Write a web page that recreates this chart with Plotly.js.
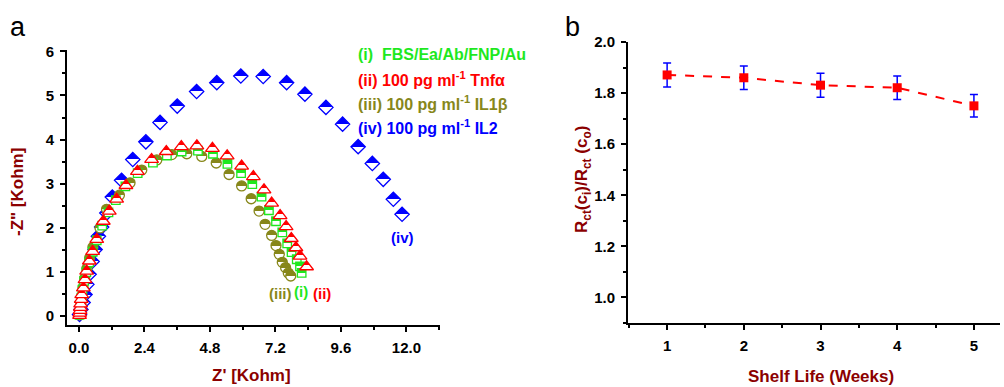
<!DOCTYPE html>
<html>
<head>
<meta charset="utf-8">
<script src="https://cdn.plot.ly/plotly-3.0.1.min.js"></script>
<style>html,body{margin:0;padding:0;background:#fff;}#chart{width:1004px;height:387px;}</style>
</head>
<body>
<div id="chart"></div>
<script>
// Panel a: Nyquist data (Kohm)
const zreI   = [0.02,0.04,0.06,0.09,0.13,0.19,0.27,0.37,0.50,0.65,0.85,1.08,1.35,1.70,2.15,2.71,3.22,3.76,4.36,4.91,5.44,5.94,6.35,6.69,6.96,7.22,7.45,7.63,7.79,7.98,8.10,8.16];
const zimI   = [0.03,0.12,0.25,0.42,0.60,0.80,1.00,1.22,1.46,1.72,2.05,2.35,2.63,2.94,3.24,3.48,3.64,3.73,3.75,3.68,3.45,3.24,2.99,2.71,2.40,2.15,1.90,1.65,1.45,1.29,1.13,0.98];
const zreII  = [0.02,0.03,0.04,0.05,0.06,0.08,0.10,0.16,0.22,0.28,0.38,0.50,0.65,0.89,1.11,1.38,1.72,2.14,2.66,3.20,3.75,4.32,4.89,5.43,5.96,6.39,6.78,7.06,7.37,7.59,7.78,7.95,8.10,8.34];
const zimII  = [0.02,0.07,0.13,0.20,0.28,0.38,0.49,0.64,0.83,1.02,1.25,1.47,1.74,2.15,2.38,2.65,2.96,3.28,3.55,3.73,3.84,3.86,3.80,3.63,3.40,3.16,2.86,2.56,2.28,2.03,1.76,1.55,1.36,1.12];
const zreIII = [0.02,0.04,0.07,0.10,0.15,0.21,0.29,0.39,0.51,0.77,1.01,1.48,1.87,2.30,2.85,3.40,3.95,4.50,5.03,5.50,5.96,6.31,6.60,6.82,7.06,7.22,7.34,7.45,7.57,7.67,7.76];
const zimIII = [0.03,0.14,0.28,0.45,0.65,0.86,1.08,1.32,1.56,2.00,2.42,2.74,3.02,3.31,3.54,3.66,3.68,3.62,3.47,3.21,2.95,2.66,2.38,2.08,1.83,1.60,1.40,1.22,1.10,0.98,0.91];
const zreIV  = [0.02,0.07,0.15,0.22,0.29,0.37,0.48,0.59,0.71,0.83,1.02,1.22,1.56,1.97,2.45,2.97,3.60,4.31,5.05,5.93,6.75,7.61,8.28,9.05,9.66,10.23,10.75,11.15,11.52,11.84];
const zimIV  = [0.04,0.15,0.31,0.49,0.72,0.95,1.24,1.51,1.81,2.02,2.34,2.70,3.08,3.55,3.95,4.39,4.76,5.09,5.29,5.44,5.43,5.29,5.03,4.73,4.35,3.84,3.46,3.10,2.65,2.31];

// Panel b: shelf life
const weeks = [1,2,3,4,5];
const ratio = [1.871,1.860,1.831,1.821,1.750];
const ratioErr = [0.047,0.046,0.047,0.046,0.044];

// Tick labels
const xTicksA = [0, 2.4, 4.8, 7.2, 9.6, 12.0];
const xTickTextA = ['0.0','2.4','4.8','7.2','9.6','12.0'];
const yTicksA = [0,1,2,3,4,5,6];
const yTickTextA = ['0','1','2','3','4','5','6'];
const xTicksB = [1,2,3,4,5];
const xTickTextB = ['1','2','3','4','5'];
const yTicksB = [1.0,1.2,1.4,1.6,1.8,2.0];
const yTickTextB = ['1.0','1.2','1.4','1.6','1.8','2.0'];

const legendLabels = ["(i)  FBS/Ea/Ab/FNP/Au","(ii) 100 pg ml<sup>-1</sup> Tnfα","(iii) 100 pg ml<sup>-1</sup> IL1β","(iv) 100 pg ml<sup>-1</sup> IL2"];
const curveLabels = ["(i)","(ii)","(iii)","(iv)"];

const GREEN = '#1ee81e', RED = '#ff0000', OLIVE = '#87871a', BLUE = '#0000ff', DARKRED = '#8b0000';
const FONT = 'Arial, "Liberation Sans", sans-serif';

function half(x, y, sym, size, col){
  return {x:x, y:y, type:'scatter', mode:'markers', xaxis:'x', yaxis:'y', showlegend:false, hoverinfo:'skip',
    marker:{symbol:sym, size:size, color:col, line:{color:col, width:1.3}, gradient:{type:'vertical', color:'#ffffff'}}};
}

const data = [
  half(zreIV, zimIV, 'diamond', 11, BLUE),
  half(zreIII, zimIII, 'circle', 10, OLIVE),
  half(zreI, zimI, 'square', 8.5, GREEN),
  half(zreII, zimII, 'triangle-up', 12, RED),
  {x:weeks, y:ratio, type:'scatter', mode:'lines+markers', xaxis:'x2', yaxis:'y2', showlegend:false,
   line:{color:RED, width:2, dash:'dash'}, marker:{symbol:'square', size:9, color:RED},
   error_y:{type:'data', array:ratioErr, visible:true, color:BLUE, thickness:1.5, width:4}}
];

const tickfont = {family:FONT, size:15, color:'#000'};
function bold(arr){ return arr.map(s => '<b>' + s + '</b>'); }
function ax(extra){
  return Object.assign({showline:true, linecolor:'#000', linewidth:2, ticks:'outside', ticklen:5, tickwidth:2, tickcolor:'#000',
    showgrid:false, zeroline:false, tickfont:tickfont, mirror:false, fixedrange:true, tickmode:'array', ticklabelstandoff:3}, extra);
}

const annotations = [];
const lcols = [GREEN, RED, OLIVE, BLUE];
const ly = [54, 79, 103, 127];
for (let i=0;i<4;i++){
  annotations.push({xref:'paper', yref:'paper', x:356/1004, y:1-ly[i]/387, xanchor:'left', yanchor:'middle', showarrow:false,
    text:'<b>' + legendLabels[i] + '</b>', font:{family:FONT, size:16, color:lcols[i]}});
}
const clx = [301, 322, 280, 402], cly = [291, 293, 293, 238];
for (let i=0;i<4;i++){
  annotations.push({xref:'paper', yref:'paper', x:clx[i]/1004, y:1-cly[i]/387, xanchor:'center', yanchor:'middle', showarrow:false,
    text:'<b>' + curveLabels[i] + '</b>', font:{family:FONT, size:15, color:lcols[i]}});
}
annotations.push({xref:'paper', yref:'paper', x:18/1004, y:1-27/387, xanchor:'center', yanchor:'middle', showarrow:false, text:'a', font:{family:FONT, size:27, color:'#000'}});
annotations.push({xref:'paper', yref:'paper', x:572/1004, y:1-27/387, xanchor:'center', yanchor:'middle', showarrow:false, text:'b', font:{family:FONT, size:27, color:'#000'}});
annotations.push({xref:'paper', yref:'paper', x:251/1004, y:1-375/387, xanchor:'center', yanchor:'middle', showarrow:false, text:"<b>Z' [Kohm]</b>", font:{family:FONT, size:17, color:DARKRED}});
annotations.push({xref:'paper', yref:'paper', x:17/1004, y:1-192/387, xanchor:'center', yanchor:'middle', showarrow:false, textangle:-90, text:'<b>-Z" [Kohm]</b>', font:{family:FONT, size:17, color:DARKRED}});
annotations.push({xref:'paper', yref:'paper', x:821/1004, y:1-376/387, xanchor:'center', yanchor:'middle', showarrow:false, text:'<b>Shelf Life (Weeks)</b>', font:{family:FONT, size:17, color:DARKRED}});
annotations.push({xref:'paper', yref:'paper', x:583/1004, y:1-180/387, xanchor:'center', yanchor:'middle', showarrow:false, textangle:-90, text:'<b>R<sub>ct</sub>(c<sub>i</sub>)/R<sub>ct</sub> (c<sub>o</sub>)</b>', font:{family:FONT, size:17, color:DARKRED}});

const layout = {
  width:1004, height:387, margin:{l:0,r:0,t:0,b:0}, paper_bgcolor:'#fff', plot_bgcolor:'#fff', showlegend:false,
  xaxis: ax({domain:[67/1004, 440/1004], range:[-0.44, 13.23], tickvals:xTicksA, ticktext:bold(xTickTextA), anchor:'y',
    minor:{ticks:'outside', ticklen:3, tickwidth:2, tickcolor:'#000', dtick:1.2, tick0:0, showgrid:false}}),
  yaxis: ax({domain:[1-325/387, 1-50/387], range:[-0.2, 6.03], tickvals:yTicksA, ticktext:bold(yTickTextA), anchor:'x',
    minor:{ticks:'outside', ticklen:3, tickwidth:2, tickcolor:'#000', dtick:0.5, tick0:0, showgrid:false}}),
  xaxis2: ax({domain:[628/1004, 1000/1004], range:[0.49, 5.34], tickvals:xTicksB, ticktext:bold(xTickTextB), anchor:'y2',
    minor:{ticks:'outside', ticklen:3, tickwidth:2, tickcolor:'#000', dtick:0.5, tick0:0.5, showgrid:false}}),
  yaxis2: ax({domain:[1-323/387, 1-42/387], range:[0.9, 2.0], tickvals:yTicksB, ticktext:bold(yTickTextB), anchor:'x2',
    minor:{ticks:'outside', ticklen:3, tickwidth:2, tickcolor:'#000', dtick:0.1, tick0:0, showgrid:false}}),
  annotations: annotations
};

function hardHalf(){
  const gd = document.getElementById('chart');
  const grads = gd.querySelectorAll('linearGradient');
  grads.forEach(g => {
    const stops = g.querySelectorAll('stop');
    let col = null;
    stops.forEach(s => {
      const c = (s.getAttribute('stop-color') || '').toLowerCase().replace(/\s/g,'');
      if (c && c !== '#ffffff' && c !== 'rgb(255,255,255)' && c !== 'white') col = s.getAttribute('stop-color');
    });
    if (!col) return;
    g.setAttribute('x1','0'); g.setAttribute('y1','0'); g.setAttribute('x2','0'); g.setAttribute('y2','1');
    g.setAttribute('gradientUnits','objectBoundingBox');
    g.removeAttribute('gradientTransform');
    while (g.firstChild) g.removeChild(g.firstChild);
    [[0,col],[0.5,col],[0.5,'#ffffff'],[1,'#ffffff']].forEach(p => {
      const s = document.createElementNS('http://www.w3.org/2000/svg','stop');
      s.setAttribute('offset', p[0]);
      s.setAttribute('stop-color', p[1]);
      g.appendChild(s);
    });
  });
}

Plotly.newPlot('chart', data, layout, {displayModeBar:false, staticPlot:true}).then(hardHalf);
</script>
</body>
</html>
